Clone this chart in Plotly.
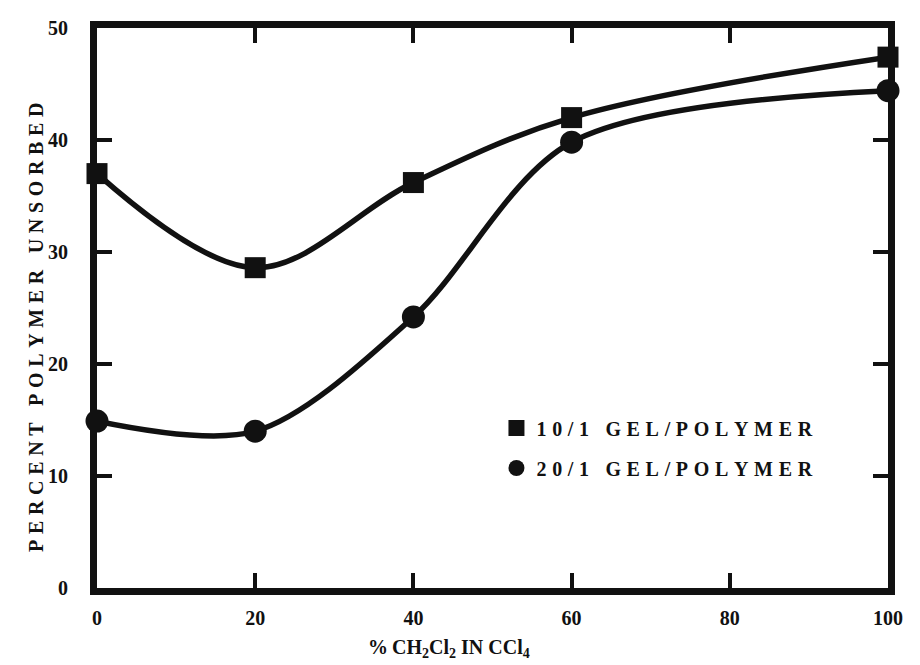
import plotly.graph_objects as go

# % CH2Cl2 in CCl4
solvent_pct = [0, 20, 40, 60, 100]
# percent polymer unsorbed
gel10_unsorbed = [37.0, 28.6, 36.2, 42.0, 47.4]
gel20_unsorbed = [14.9, 14.0, 24.2, 39.8, 44.4]

series_names = ["10/1 GEL/POLYMER", "20/1 GEL/POLYMER"]
x_ticks = [0, 20, 40, 60, 80, 100]
y_ticks = [0, 10, 20, 30, 40, 50]

SERIF = "Liberation Serif, Times New Roman, serif"
INK = "#111111"


def spaced(s, gap="\u2009\u200a"):
    # widen the lettering with thin spaces
    return gap.join(s)


fig = go.Figure()

fig.add_trace(go.Scatter(
    x=solvent_pct, y=gel10_unsorbed, mode="lines+markers",
    line=dict(color=INK, width=5.5, shape="spline", smoothing=1.0),
    marker=dict(symbol="square", size=21, color=INK),
    showlegend=False, cliponaxis=False,
))
fig.add_trace(go.Scatter(
    x=solvent_pct, y=gel20_unsorbed, mode="lines+markers",
    line=dict(color=INK, width=5.5, shape="spline", smoothing=0.9),
    marker=dict(symbol="circle", size=23, color=INK),
    showlegend=False, cliponaxis=False,
))

# legend entries (symbols only)
for name, sym, sz in zip(series_names, ["square", "circle"], [20, 22]):
    fig.add_trace(go.Scatter(
        x=[None], y=[None], mode="markers", name=spaced(name),
        legendgroup=name,
        marker=dict(symbol=sym, size=sz, color=INK),
    ))

axis_common = dict(
    showline=True, linecolor=INK, linewidth=7, mirror="ticks",
    ticks="inside", ticklen=15, tickwidth=4, tickcolor=INK,
    showgrid=False, zeroline=False,
    tickfont=dict(family=SERIF, size=20, color=INK, weight="bold"),
)

fig.update_xaxes(
    range=[0, 100], tickvals=x_ticks, ticktext=[str(v) for v in x_ticks],
    ticklabelstandoff=6, **axis_common,
)
fig.update_yaxes(
    range=[0, 50], tickvals=y_ticks, ticktext=[str(v) for v in y_ticks],
    ticklabelstandoff=18, **axis_common,
)

fig.add_annotation(
    text=spaced("PERCENT POLYMER UNSORBED"), textangle=-90,
    xref="paper", yref="paper", x=-0.078, y=0.465,
    xanchor="center", yanchor="middle", showarrow=False,
    font=dict(family=SERIF, size=20, color=INK, weight="bold"),
)
fig.add_annotation(
    text="%\u2009CH<sub>2</sub>Cl<sub>2</sub> IN CCl<sub>4</sub>",
    xref="paper", yref="paper", x=0.445, y=-0.108,
    xanchor="center", yanchor="middle", showarrow=False,
    font=dict(family=SERIF, size=20, color=INK, weight="bold"),
)

fig.update_layout(
    width=920, height=665,
    margin=dict(l=97, r=32, t=28, b=77),
    paper_bgcolor="white", plot_bgcolor="white",
    legend=dict(
        x=0.505, y=0.25, xanchor="left", yanchor="middle",
        font=dict(family=SERIF, size=20, color=INK, weight="bold"),
        bgcolor="rgba(0,0,0,0)", itemsizing="trace", tracegroupgap=11,
    ),
)

fig.write_html("out.html")
